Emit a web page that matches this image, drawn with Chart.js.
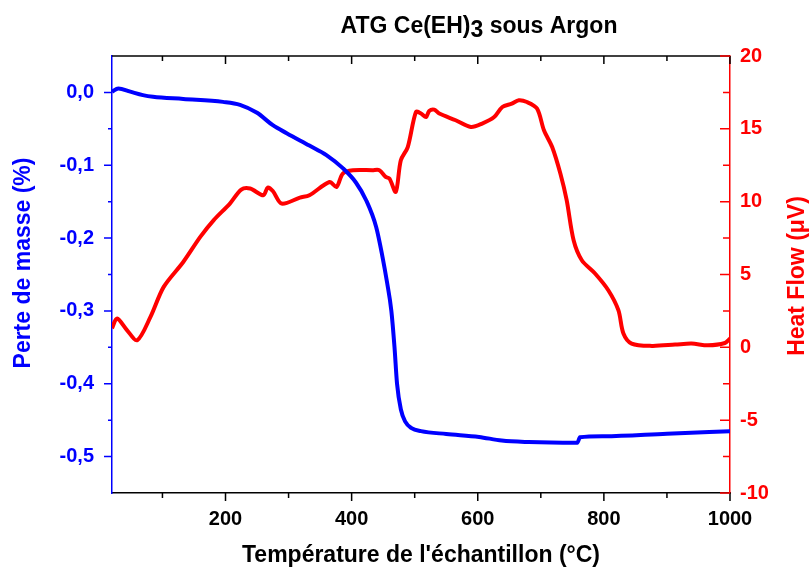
<!DOCTYPE html>
<html>
<head>
<meta charset="utf-8">
<title>ATG Ce(EH)3 sous Argon</title>
<script src="https://cdn.jsdelivr.net/npm/chart.js@4.4.0/dist/chart.umd.min.js"></script>
<style>
  html, body { margin: 0; padding: 0; background: #fff; }
  #cadre { position: relative; width: 810px; height: 567px; }
</style>
</head>
<body>
<div id="cadre"><canvas id="atg"></canvas></div>
<script>
// Perte de masse (%) - axe gauche
const tempMasse = [20, 30, 49, 69, 85, 133, 196, 223, 250, 275, 297, 333, 360, 386, 407, 423, 439, 449, 456, 463, 468, 472, 478, 485, 495, 510, 550, 602, 638, 681, 755, 758, 762, 800, 900, 1000];
const masse = [0.001, 0.0055, 0.001, -0.0037, -0.006, -0.009, -0.013, -0.017, -0.028, -0.045, -0.056, -0.073, -0.086, -0.104, -0.124, -0.148, -0.185, -0.226, -0.26, -0.30, -0.35, -0.40, -0.435, -0.452, -0.461, -0.465, -0.469, -0.473, -0.478, -0.480, -0.481, -0.481, -0.4735, -0.472, -0.4685, -0.4653];

// Heat Flow (µV) - axe droit
const tempHeat = [20, 28, 44, 60, 81, 102, 133, 160, 181, 207, 225, 239, 260, 267, 275, 289, 318, 333, 365, 376, 386, 402, 433, 444, 454, 460, 470, 478, 489, 502, 510, 518, 523, 531, 539, 565, 589, 607, 626, 639, 654, 665, 678, 694, 705, 718, 731, 741, 752, 765, 786, 807, 823, 831, 844, 876, 913, 939, 965, 992, 1000];
const heatFlow = [1.31, 1.98, 1.17, 0.49, 2.09, 4.15, 5.86, 7.58, 8.72, 9.87, 10.83, 10.9, 10.44, 10.97, 10.73, 9.87, 10.28, 10.44, 11.35, 11.01, 11.93, 12.16, 12.16, 12.16, 11.7, 11.59, 10.67, 12.84, 13.75, 16.16, 16.05, 15.81, 16.23, 16.32, 16.05, 15.59, 15.13, 15.36, 15.81, 16.5, 16.73, 16.96, 16.84, 16.39, 14.9, 13.75, 11.93, 10.1, 7.35, 5.98, 5.07, 3.92, 2.55, 0.95, 0.26, 0.10, 0.19, 0.26, 0.14, 0.30, 0.60];

// graduations
const tickTemp = [200, 400, 600, 800, 1000];
const tickMasse = [-0.5, -0.4, -0.3, -0.2, -0.1, 0.0];
const tickHeat = [-10, -5, 0, 5, 10, 15, 20];

const police = '"Liberation Sans", Arial, sans-serif';
const bleu = '#0000ff';
const rouge = '#ff0000';

function milieux(liste) {
  let res = [];
  for (let i = 0; i < liste.length - 1; i++) res.push((liste[i] + liste[i + 1]) / 2);
  return res;
}

// petits traits, cadre du haut et titres
const cadrePlugin = {
  id: 'cadreATG',
  afterDraw(chart) {
    const ctx = chart.ctx;
    const a = chart.chartArea;
    const sx = chart.scales.x, sy = chart.scales.y, sy2 = chart.scales.y2;
    ctx.save();
    ctx.lineWidth = 1.5;

    // ligne du haut
    ctx.strokeStyle = '#000';
    ctx.beginPath();
    ctx.moveTo(a.left, a.top);
    ctx.lineTo(a.right, a.top);
    ctx.stroke();

    // axe x: traits vers le bas et traits du haut vers l'intérieur
    const minTemp = [100].concat(milieux(tickTemp));
    ctx.beginPath();
    tickTemp.forEach(v => {
      const px = sx.getPixelForValue(v);
      ctx.moveTo(px, a.bottom); ctx.lineTo(px, a.bottom + 8);
      ctx.moveTo(px, a.top); ctx.lineTo(px, a.top + 8);
    });
    minTemp.forEach(v => {
      const px = sx.getPixelForValue(v);
      ctx.moveTo(px, a.bottom); ctx.lineTo(px, a.bottom + 5);
      ctx.moveTo(px, a.top); ctx.lineTo(px, a.top + 5);
    });
    ctx.stroke();

    // axe gauche
    ctx.strokeStyle = bleu;
    ctx.beginPath();
    tickMasse.forEach(v => {
      const py = sy.getPixelForValue(v);
      ctx.moveTo(a.left, py); ctx.lineTo(a.left - 8, py);
    });
    milieux(tickMasse).forEach(v => {
      const py = sy.getPixelForValue(v);
      ctx.moveTo(a.left, py); ctx.lineTo(a.left - 4, py);
    });
    ctx.stroke();

    // axe droit, traits vers l'intérieur
    ctx.strokeStyle = rouge;
    ctx.beginPath();
    tickHeat.forEach(v => {
      const py = sy2.getPixelForValue(v);
      ctx.moveTo(a.right, py); ctx.lineTo(a.right - 10, py);
    });
    milieux(tickHeat).forEach(v => {
      const py = sy2.getPixelForValue(v);
      ctx.moveTo(a.right, py); ctx.lineTo(a.right - 7, py);
    });
    ctx.stroke();

    // titres des axes
    ctx.font = 'bold 23px ' + police;
    ctx.textAlign = 'center';
    ctx.textBaseline = 'alphabetic';
    ctx.fillStyle = '#000';
    ctx.fillText("Température de l'échantillon (°C)", (a.left + a.right) / 2, 562);

    ctx.save();
    ctx.translate(30, 263);
    ctx.rotate(-Math.PI / 2);
    ctx.fillStyle = bleu;
    ctx.fillText('Perte de masse (%)', 0, 0);
    ctx.restore();

    ctx.save();
    ctx.translate(804, 276);
    ctx.rotate(-Math.PI / 2);
    ctx.fillStyle = rouge;
    ctx.fillText('Heat Flow (\u03BCV)', 0, 0);
    ctx.restore();

    // titre du graphique avec l'indice 3
    ctx.fillStyle = '#000';
    ctx.textAlign = 'left';
    const morceaux = ['ATG Ce(EH)', '3', ' sous Argon'];
    const larg = morceaux.map(m => ctx.measureText(m).width);
    let x0 = 479 - (larg[0] + larg[1] + larg[2]) / 2;
    ctx.fillText(morceaux[0], x0, 33);
    ctx.fillText(morceaux[1], x0 + larg[0], 37);
    ctx.fillText(morceaux[2], x0 + larg[0] + larg[1], 33);

    ctx.restore();
  }
};

const fontTicks = { family: police, size: 20, weight: 'bold' };

let graphique = new Chart(document.getElementById('atg'), {
  type: 'line',
  data: {
    datasets: [
      {
        label: 'Perte de masse (%)',
        data: tempMasse.map((t, i) => ({ x: t, y: masse[i] })),
        yAxisID: 'y',
        borderColor: bleu,
        borderWidth: 4,
        pointRadius: 0,
        cubicInterpolationMode: 'monotone'
      },
      {
        label: 'Heat Flow (µV)',
        data: tempHeat.map((t, i) => ({ x: t, y: heatFlow[i] })),
        yAxisID: 'y2',
        borderColor: rouge,
        borderWidth: 4,
        pointRadius: 0,
        tension: 0.3
      }
    ]
  },
  options: {
    responsive: true,
    maintainAspectRatio: false,
    animation: false,
    layout: { padding: { top: 56, left: 0, right: 0, bottom: 0 } },
    plugins: {
      legend: { display: false },
      tooltip: { enabled: false }
    },
    scales: {
      x: {
        type: 'linear',
        position: 'bottom',
        min: 20,
        max: 1000,
        afterBuildTicks: s => { s.ticks = tickTemp.map(v => ({ value: v })); },
        afterFit: s => { s.height = 74; },
        grid: { display: false, drawTicks: false },
        border: { color: '#000', width: 1.5 },
        ticks: { color: '#000', padding: 14, maxRotation: 0, font: fontTicks, callback: v => String(v) }
      },
      y: {
        type: 'linear',
        position: 'left',
        min: -0.55,
        max: 0.05,
        afterBuildTicks: s => { s.ticks = tickMasse.map(v => ({ value: v })); },
        afterFit: s => { s.width = 112; },
        grid: { display: false, drawTicks: false },
        border: { color: bleu, width: 1.5 },
        ticks: { color: bleu, padding: 18, font: fontTicks, callback: v => v.toFixed(1).replace('.', ',') }
      },
      y2: {
        type: 'linear',
        position: 'right',
        min: -10,
        max: 20,
        afterBuildTicks: s => { s.ticks = tickHeat.map(v => ({ value: v })); },
        afterFit: s => { s.width = 80; },
        grid: { display: false, drawTicks: false },
        border: { color: rouge, width: 1.5 },
        ticks: { color: rouge, padding: 10, font: fontTicks, callback: v => String(v) }
      }
    }
  },
  plugins: [cadrePlugin]
});
</script>
</body>
</html>
